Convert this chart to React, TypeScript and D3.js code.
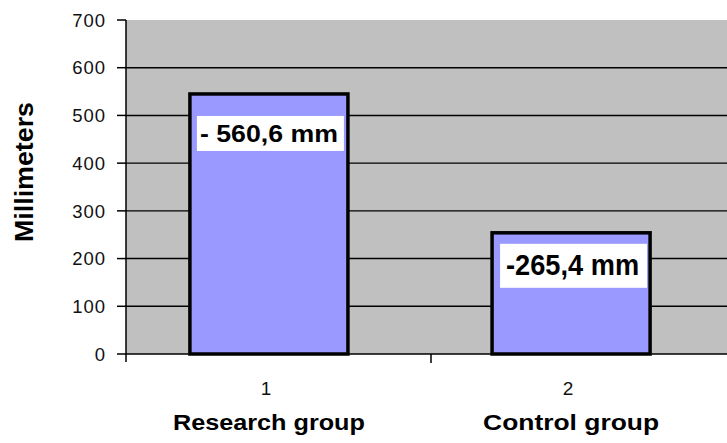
import React from "react";
import * as d3 from "d3";

const categories = ["1", "2"];
const groupNames = ["Research group", "Control group"];
const values = [545, 254];
const valueLabels = ["- 560,6 mm", "-265,4 mm"];
const yTicks = [0, 100, 200, 300, 400, 500, 600, 700];

const W = 727;
const H = 443;
const plotLeft = 126;
const plotRight = 736;
const plotTop = 20;
const plotBottom = 354;

// per-label box styling (offsets from the bar top / left)
const labelStyles = [
  { dy: 22, h: 35, inset: 7, w: 147, tx: 3, len: 138, fs: 23, base: 26 },
  { dy: 11, h: 44, inset: 8, w: 147, tx: 6, len: 133, fs: 30, base: 31 },
];

const FONT = "'Liberation Sans', Arial, sans-serif";

export default function App() {
  const y = d3.scaleLinear().domain([0, 700]).range([plotBottom, plotTop]);
  const xBar = d3
    .scaleBand<string>()
    .domain(categories)
    .range([118, 722])
    .paddingInner(0.477)
    .paddingOuter(0.238);
  const xCat = d3.scaleBand<string>().domain(categories).range([plotLeft, plotRight]).padding(0);

  return (
    <svg
      width={W}
      height={H}
      style={{ position: "absolute", left: 0, top: 0, background: "#fff" }}
      fontFamily={FONT}
    >
      <rect x={plotLeft} y={plotTop} width={W - plotLeft} height={plotBottom - plotTop} fill="#C0C0C0" />
      {/* gridlines */}
      {yTicks
        .filter((t) => t > 0 && t < 700)
        .map((t) => (
          <line key={"g" + t} x1={plotLeft} x2={W} y1={y(t)} y2={y(t)} stroke="#000" strokeWidth={1.4} />
        ))}
      {/* bars */}
      {categories.map((c, i) => (
        <rect
          key={"b" + c}
          x={xBar(c)}
          y={y(values[i])}
          width={xBar.bandwidth()}
          height={y(0) - y(values[i])}
          fill="#9999FF"
          stroke="#000"
          strokeWidth={3.5}
        />
      ))}
      {/* axes */}
      <line x1={plotLeft} x2={plotLeft} y1={plotTop} y2={y(0) + 8} stroke="#000" strokeWidth={1.5} />
      <line x1={plotLeft} x2={W} y1={y(0)} y2={y(0)} stroke="#000" strokeWidth={1.5} />
      {yTicks.map((t) => (
        <g key={"t" + t}>
          <line x1={plotLeft - 9} x2={plotLeft} y1={y(t)} y2={y(t)} stroke="#000" strokeWidth={1.5} />
          <text
            x={106}
            y={y(t)}
            dy="0.36em"
            textAnchor="end"
            fontSize={18.5}
            letterSpacing={1}
            fill="#111"
          >
            {t}
          </text>
        </g>
      ))}
      {categories.slice(1).map((c) => (
        <line
          key={"xt" + c}
          x1={xCat(c)}
          x2={xCat(c)}
          y1={y(0)}
          y2={y(0) + 9}
          stroke="#000"
          strokeWidth={1.5}
        />
      ))}
      {/* category labels */}
      {categories.map((c, i) => {
        const cx = (xBar(c) as number) + xBar.bandwidth() / 2;
        return (
          <g key={"cl" + c}>
            <text x={cx - 3} y={395} textAnchor="middle" fontSize={19} fill="#111">
              {c}
            </text>
            <text
              x={cx}
              y={430}
              textAnchor="middle"
              fontSize={22}
              fontWeight="bold"
              textLength={i === 0 ? 192 : 176}
              lengthAdjust="spacingAndGlyphs"
              fill="#000"
            >
              {groupNames[i]}
            </text>
          </g>
        );
      })}
      {/* value labels */}
      {categories.map((c, i) => {
        const s = labelStyles[i];
        const bx = (xBar(c) as number) + s.inset;
        const by = y(values[i]) + s.dy;
        return (
          <g key={"vl" + c}>
            <rect x={bx} y={by} width={s.w} height={s.h} fill="#fff" />
            <text
              x={bx + s.tx}
              y={by + s.base}
              fontSize={s.fs}
              fontWeight="bold"
              textLength={s.len}
              lengthAdjust="spacingAndGlyphs"
              fill="#000"
            >
              {valueLabels[i]}
            </text>
          </g>
        );
      })}
      {/* y title */}
      <text
        transform={`translate(33, ${172}) rotate(-90)`}
        textAnchor="middle"
        fontSize={25}
        fontWeight="bold"
        textLength={140}
        lengthAdjust="spacingAndGlyphs"
        fill="#000"
      >
        Millimeters
      </text>
    </svg>
  );
}
